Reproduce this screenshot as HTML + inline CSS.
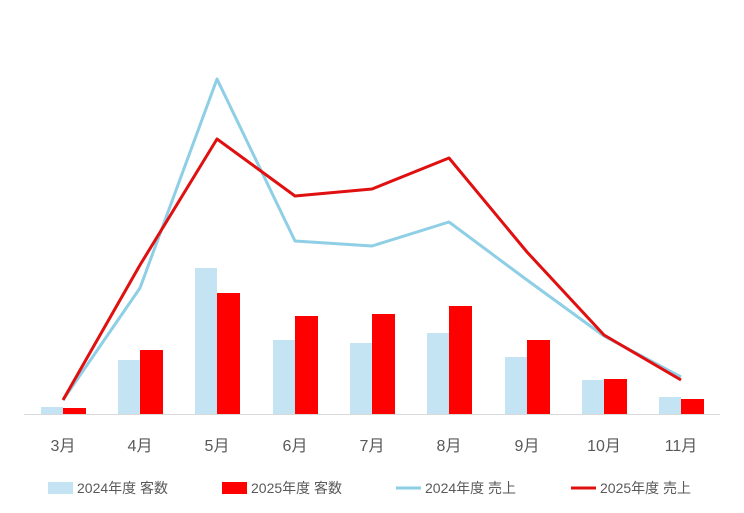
<!DOCTYPE html>
<html><head><meta charset="utf-8"><style>
body{margin:0;background:#fff;}
svg text{font-family:"Liberation Sans","Noto Sans CJK JP",sans-serif;fill:#595959;}
</style></head><body>
<svg width="744" height="508" viewBox="0 0 744 508" xmlns="http://www.w3.org/2000/svg">
<rect width="744" height="508" fill="#fff"/>
<g fill="#c4e4f4">
<rect x="41" y="407" width="22" height="7"/>
<rect x="118" y="360" width="22" height="54"/>
<rect x="195" y="268" width="22" height="146"/>
<rect x="273" y="340" width="22" height="74"/>
<rect x="350" y="343" width="22" height="71"/>
<rect x="427" y="333" width="22" height="81"/>
<rect x="505" y="357" width="22" height="57"/>
<rect x="582" y="380" width="22" height="34"/>
<rect x="659" y="397" width="22" height="17"/>
</g>
<g fill="#ff0000">
<rect x="63" y="408" width="23" height="6"/>
<rect x="140" y="350" width="23" height="64"/>
<rect x="217" y="293" width="23" height="121"/>
<rect x="295" y="316" width="23" height="98"/>
<rect x="372" y="314" width="23" height="100"/>
<rect x="449" y="306" width="23" height="108"/>
<rect x="527" y="340" width="23" height="74"/>
<rect x="604" y="379" width="23" height="35"/>
<rect x="681" y="399" width="23" height="15"/>
</g>
<line x1="24" y1="414.5" x2="720" y2="414.5" stroke="#d9d9d9" stroke-width="1"/>
<polyline fill="none" stroke="#8ecfe6" stroke-width="3" stroke-linejoin="round" points="63,400 140,288 217,79 295,241 372,246 449,222 527,280 604,336 681,377"/>
<polyline fill="none" stroke="#e01010" stroke-width="3" stroke-linejoin="round" points="63,400 140,265 217,139 295,196 372,189 449,158 527,252 604,335 681,380"/>
<g font-size="16" text-anchor="middle">
<text x="63" y="451">3月</text><text x="140" y="451">4月</text><text x="217" y="451">5月</text>
<text x="295" y="451">6月</text><text x="372" y="451">7月</text><text x="449" y="451">8月</text>
<text x="527" y="451">9月</text><text x="604" y="451">10月</text><text x="681" y="451">11月</text>
</g>
<rect x="48" y="482" width="25" height="12" fill="#c4e4f4"/>
<text x="77" y="493" font-size="14">2024年度 客数</text>
<rect x="222" y="482" width="25" height="12" fill="#ff0000"/>
<text x="251" y="493" font-size="14">2025年度 客数</text>
<line x1="396" y1="488" x2="421" y2="488" stroke="#8ecfe6" stroke-width="3"/>
<text x="425" y="493" font-size="14">2024年度 売上</text>
<line x1="571" y1="488" x2="596" y2="488" stroke="#e01010" stroke-width="3"/>
<text x="600" y="493" font-size="14">2025年度 売上</text>
</svg>
</body></html>
